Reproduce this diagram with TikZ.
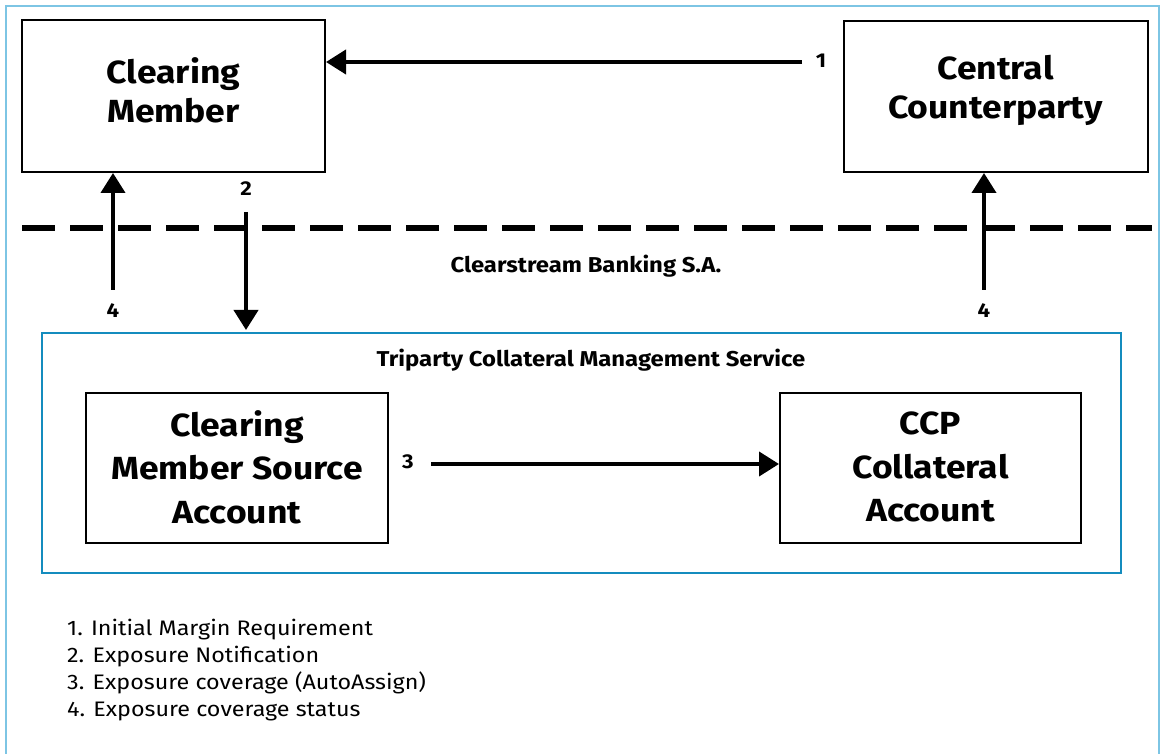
\documentclass[tikz,border=0pt]{standalone}
\usepackage{fontspec}
\setmainfont{Fira Sans}[FakeStretch=1.11]
\usetikzlibrary{arrows.meta}
\definecolor{frameblue}{RGB}{125,197,228}
\definecolor{svcblue}{RGB}{20,140,190}
\tikzset{
  bigbox/.style={draw=black, line width=2pt, inner sep=0pt},
  boxtext/.style={align=center, font=\fontsize{32}{39}\selectfont\bfseries, inner sep=0pt},
  boxtextb/.style={align=center, font=\fontsize{32}{43.5}\selectfont\bfseries, inner sep=0pt},
  flow/.style={line width=4pt, -{Triangle[length=20pt,width=24pt]}},
  num/.style={font=\fontsize{20}{22}\selectfont\bfseries},
  lbl/.style={font=\fontsize{21.5}{24}\selectfont\bfseries},
  legend/.style={font=\fontsize{21}{27}\selectfont, align=left, anchor=north west, inner sep=0pt}
}
\begin{document}
\begin{tikzpicture}[x=1pt,y=-1pt]
\useasboundingbox (0,0) rectangle (1160,754);
\draw[frameblue, line width=2pt] (6,770) -- (6,6) -- (1159,6) -- (1159,770);
% top boxes
\node[bigbox, minimum width=303pt, minimum height=152pt] (cm) at (173.5,96) {};
\node[boxtext] (cmt) at (173.5,90) {Clearing\\Member};
\node[bigbox, minimum width=304pt, minimum height=151pt] (ccp) at (995.5,96.5) {};
\node[boxtext] (ccpt) at (995.5,90) {Central\\Counterparty};
% dashed border
\coordinate (dl) at (22,228);
\coordinate (dr) at (1152,228);
\draw[line width=6pt, dash pattern=on 33pt off 15pt] (dl) -- (dr);
\node[lbl] (csbl) at (586,266) {Clearstream Banking S.A.};
% service box
\node[draw=svcblue, line width=2pt, minimum width=1079pt, minimum height=240pt, inner sep=0pt] (svc) at (581.5,453) {};
\node[lbl] (svcl) at (591,360) {Triparty Collateral Management Service};
\node[bigbox, minimum width=302pt, minimum height=150pt] (src) at (237,468) {};
\node[boxtextb] (srct) at (237,467) {Clearing\\Member Source\\Account};
\node[bigbox, minimum width=301pt, minimum height=150pt] (col) at (930.5,468) {};
\node[boxtextb] (colt) at (930.5,467) {CCP\\Collateral\\Account};
% arrow 1
\coordinate (a1s) at (802,62);
\draw[flow] (a1s) -- (cm.east |- a1s);
\node[num] (n1) at (821,61) {1};
% arrow 2
\coordinate (a2s) at (246,212);
\coordinate (a2e) at (246,330);
\draw[flow] (a2s) -- (a2e);
\node[num] (n2) at (246,189) {2};
% arrows 4
\coordinate (a4l) at (113,290);
\draw[flow] (a4l) -- (cm.south -| a4l);
\node[num] (n4l) at (113,311) {4};
\coordinate (a4r) at (984,290);
\draw[flow] (a4r) -- (ccp.south -| a4r);
\node[num] (n4r) at (984,311) {4};
% arrow 3
\coordinate (a3s) at (431,464);
\draw[flow] (a3s) -- (col.west |- a3s);
\node[num] (n3) at (408,462) {3};
% legend
\node[legend] (leg) at (67,619) {1. Initial Margin Requirement\\2. Exposure Notification\\3. Exposure coverage (AutoAssign)\\4. Exposure coverage status};
\end{tikzpicture}
\end{document}
